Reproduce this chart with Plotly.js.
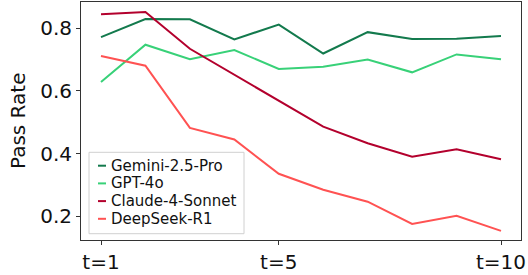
<!DOCTYPE html>
<html>
<head>
<meta charset="utf-8">
<script src="https://cdn.plot.ly/plotly-3.0.1.min.js"></script>
<style>html,body{margin:0;padding:0;background:#fff;}#chart{width:528px;height:275px;}</style>
</head>
<body>
<div id="chart"></div>
<script>
const steps = [1,2,3,4,5,6,7,8,9,10];
const tickVals = [1,5,10];
const tickLabels = ["t=1","t=5","t=10"];
const seriesNames = ["Gemini-2.5-Pro","GPT-4o","Claude-4-Sonnet","DeepSeek-R1"];
const gemini   = [0.771,0.829,0.828,0.764,0.811,0.719,0.787,0.765,0.766,0.775];
const gpt4o    = [0.628,0.747,0.701,0.730,0.670,0.677,0.700,0.659,0.716,0.701];
const claude   = [0.844,0.851,0.734,0.652,0.568,0.486,0.433,0.390,0.414,0.382];
const deepseek = [0.711,0.680,0.482,0.445,0.336,0.285,0.247,0.176,0.202,0.154];
const colors = ["#137a4d","#38d178","#b3002d","#ff5252"];

const allSeries = [gemini, gpt4o, claude, deepseek];
const traces = allSeries.map((ys,i)=>({
  x: steps, y: ys, type:'scatter', mode:'lines', name: seriesNames[i],
  line:{color:colors[i], width:2}, showlegend:false, hoverinfo:'skip'
}));

const W=528,H=275, L=81, R=7, T=2, B=35;
const pw=W-L-R, ph=H-T-B;
const px=(x)=>(x-L)/pw;
const py=(y)=>(H-B-y)/ph;

const shapes=[];
const annotations=[];
const bx0=px(89), bx1=px(244), by0=py(233.7), by1=py(152.3);
shapes.push({type:'rect', xref:'paper', yref:'paper', x0:bx0, x1:bx1, y0:by0, y1:by1,
  line:{color:'#d0d0d0', width:1}, fillcolor:'rgba(255,255,255,0.8)', layer:'above'});
const rowY=[165.7,183.4,201.1,218.8];
seriesNames.forEach((n,i)=>{
  shapes.push({type:'line', xref:'paper', yref:'paper', x0:px(98), x1:px(106), y0:py(rowY[i]), y1:py(rowY[i]),
    line:{color:colors[i], width:2}, layer:'above'});
  annotations.push({xref:'paper', yref:'paper', x:px(109), y:py(rowY[i]), xanchor:'left', yanchor:'middle',
    text:n, showarrow:false, font:{family:'DejaVu Sans', size:15, color:'#111'}});
});
annotations.push({xref:'paper', yref:'paper', x:px(18), y:0.5, xanchor:'center', yanchor:'middle',
  text:'Pass Rate', textangle:-90, showarrow:false, font:{family:'DejaVu Sans', size:20, color:'#111'}});

const layout={
  width:W, height:H, margin:{l:L, r:R, t:T, b:B}, paper_bgcolor:'#fff', plot_bgcolor:'#fff',
  font:{family:'DejaVu Sans', size:20, color:'#111'},
  xaxis:{range:[0.55,10.45], tickvals:tickVals, ticktext:tickLabels, showgrid:false, zeroline:false,
    showline:true, mirror:true, linecolor:'#333', linewidth:1, ticks:'outside', ticklen:4, tickcolor:'#333',
    tickfont:{size:20}},
  yaxis:{range:[0.125,0.883], tickvals:[0.2,0.4,0.6,0.8], ticktext:['0.2','0.4','0.6','0.8'], showgrid:false, zeroline:false,
    showline:true, mirror:true, linecolor:'#333', linewidth:1, ticks:'outside', ticklen:4, tickcolor:'#333',
    tickfont:{size:20}},
  shapes:shapes, annotations:annotations, showlegend:false
};
Plotly.newPlot('chart', traces, layout, {staticPlot:true, displayModeBar:false});
</script>
</body>
</html>
